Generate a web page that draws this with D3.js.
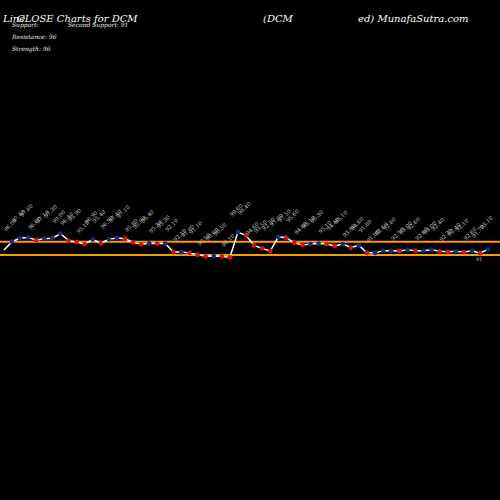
<!DOCTYPE html>
<html><head><meta charset="utf-8">
<script src="https://cdn.jsdelivr.net/npm/d3@7"></script>
<style>body{margin:0;background:#000}</style>
</head><body><div class="container"></div>
<script>
// closing prices
const closes = [92.9, 96.0, 97.4, 97.6, 96.6, 97.1, 97.3, 99.0, 96.4, 95.9, 95.1, 96.9, 95.4, 96.9, 97.4, 97.1,
  95.8, 95.0, 95.4, 95.3, 95.3, 92.1, 92.1, 91.8, 91.1, 90.5, 90.6, 90.5, 90.1, 99.6, 98.4,
  94.6, 93.5, 92.5, 97.8, 97.5, 95.6, 94.8, 95.1, 95.3, 95.1, 94.4, 95.1, 93.8, 94.6, 91.8,
  91.8, 92.6, 92.6, 92.5, 93.0, 92.6, 92.6, 93.0, 92.4, 92.2, 92.4, 92.1, 92.6, 91.7, 93.1];
const levels = [96, 91];
const infoLines = ["Resistance: 96", "Strength: 96"];

const width = 500, height = 500;
const svg = d3.select(".container").append("svg")
  .attr("width", width).attr("height", height)
  .style("background", "#000");

const x = d3.scaleLinear().domain([0, closes.length - 1]).range([4, 488]);
const y = d3.scaleLinear().domain([91, 96]).range([255, 241.7]);

const serif = "'DejaVu Serif', 'Liberation Serif', serif";

// header
const head = (tx, px, py, size, fill) => svg.append("text").attr("x", px).attr("y", py)
  .attr("fill", fill).style("font", `italic ${size}px ${serif}`).text(tx);
head("Line", 3, 22, 10, "#fff");
head("CLOSE Charts for DCM", 17, 22, 10, "#fff");
head("(DCM", 263, 22, 10, "#fff");
head("ed) MunafaSutra.com", 358, 22, 10, "#fff");
head("Support:", 12, 27, 6, "#eee");
head("Second Support: 91", 68, 27, 6, "#eee");
infoLines.forEach((t, i) => head(t, 12, 39 + i * 12, 6, "#eee"));

// support / resistance lines
svg.selectAll(".lvl").data(levels).enter().append("line")
  .attr("x1", 0).attr("x2", width)
  .attr("y1", d => y(d)).attr("y2", d => y(d))
  .attr("stroke", "#ff9900").attr("stroke-width", 2);

// price line
svg.append("path").datum(closes)
  .attr("d", d3.line().x((d, i) => x(i)).y(d => y(d)))
  .attr("fill", "none").attr("stroke", "#fff").attr("stroke-width", 1.5);

// markers
svg.selectAll(".pt").data(closes.slice(1)).enter().append("circle")
  .attr("cx", (d, i) => x(i + 1)).attr("cy", d => y(d)).attr("r", 2.4)
  .attr("fill", (d, i) => d >= closes[i] ? "#1a2a8c" : "#e01010");

// value labels
svg.selectAll(".lbl").data(closes.slice(1)).enter().append("text")
  .attr("transform", (d, i) => `translate(${x(i + 1) - 6},${y(d) - 10 - (i % 3) * 5}) rotate(-45)`)
  .attr("fill", "#ccc").style("font", `5.5px ${serif}`)
  .text(d => d.toFixed(2));

svg.append("text").attr("x", 476).attr("y", 261).attr("fill", "#ccc")
  .style("font", `5px ${serif}`).text("91");
</script></body></html>
